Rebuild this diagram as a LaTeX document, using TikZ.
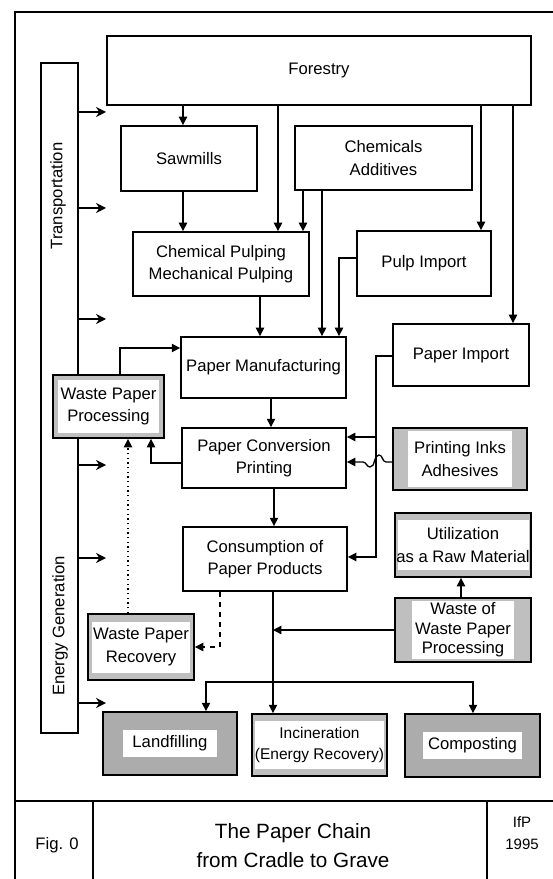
\documentclass[tikz,border=0pt]{standalone}
\usepackage{fontspec}
\setmainfont{Liberation Sans}
\usetikzlibrary{arrows.meta}

\tikzset{
  sz/.style 2 args={minimum width=#1*0.6pt, minimum height=#2*0.6pt},
  box/.style={draw, line width=1.1pt, inner sep=0pt, align=center, font=\fontsize{10}{13.5}\selectfont},
  dotbox/.style 2 args={box, fill=gray!50, path picture={\fill[white] ([xshift=#1, yshift=-#2]path picture bounding box.north west) rectangle ([xshift=-#1, yshift=#2]path picture bounding box.south east);}},
  arr/.style={line width=0.8pt, -{Triangle[length=5pt,width=5pt]}},
  tarr/.style={line width=0.8pt, -{Stealth[length=6pt,width=6pt,inset=2pt]}},
}

\begin{document}
\begin{tikzpicture}[x=0.6pt, y=-0.6pt]
\useasboundingbox (0,0) rectangle (553,879);
% frame and title block
\draw[line width=1.3pt] (553,12) -- (15,12) -- (15,879);
\draw[line width=1.3pt] (15,801) -- (553,801);
\draw[line width=1pt] (93,801) -- (93,879);
\draw[line width=1pt] (487,801) -- (487,879);
\node[font=\fontsize{10}{12}\selectfont] (fig) at (57,845) {Fig. 0};
\node[align=center, font=\fontsize{12.4}{17.4}\selectfont] (title) at (293,846) {The Paper Chain\\from Cradle to Grave};
\node[align=center, font=\fontsize{9}{13.2}\selectfont] (ifp) at (522,833) {IfP\\1995};

% side column
\node[draw, line width=0.9pt, sz={37}{670}] (column) at (59.5,398) {};
\node[rotate=90, font=\fontsize{10}{12}\selectfont] (transp) at (58,196) {Transportation};
\node[rotate=90, font=\fontsize{10}{12}\selectfont] (energy) at (60,626) {Energy Generation};
\foreach \y [count=\i] in {112,208,319,465,558,703} {
  \coordinate (t\i) at (106,\y);
  \draw[tarr] (column.east |- t\i) -- (t\i);
}

% boxes
\node[box, sz={424}{69}] (forestry) at (319,70.5) {Forestry};
\node[box, sz={136}{65}] (sawmills) at (189,158.5) {Sawmills};
\node[box, sz={177}{64}] (chem) at (383.5,158) {Chemicals\\Additives};
\node[box, sz={176}{64}] (pulping) at (221,264) {Chemical Pulping\\Mechanical Pulping};
\node[box, sz={134}{65}] (pulpimp) at (424,263.5) {Pulp Import};
\node[box, sz={165}{61}] (papman) at (263.5,367.5) {Paper Manufacturing};
\node[box, sz={136}{62}] (papimp) at (461,355) {Paper Import};
\node[dotbox={3pt}{3pt}, sz={111}{63}] (wpp) at (108.5,406.5) {Waste Paper\\Processing};
\node[box, sz={164}{60}] (conv) at (264,458) {Paper Conversion\\Printing};
\node[dotbox={9pt}{2pt}, sz={134}{62}] (inks) at (460,459) {Printing Inks\\Adhesives};
\node[box, sz={164}{64}] (cons) at (265,559) {Consumption of\\Paper Products};
\node[dotbox={1.5pt}{4pt}, sz={136}{64}] (util) at (463,545) {Utilization\\as a Raw Material};
\node[dotbox={10pt}{2pt}, sz={136}{64}, font=\fontsize{10}{11.7}\selectfont] (wwpp) at (463,630) {Waste of\\Waste Paper\\Processing};
\node[dotbox={2.5pt}{4.5pt}, sz={106}{66}] (wpr) at (141,647) {Waste Paper\\Recovery};
\node[dotbox={12pt}{11pt}, fill=gray!65, sz={134}{63}] (landfill) at (170,743.5) {Landfilling};
\node[dotbox={2pt}{4pt}, sz={135}{62}, font=\fontsize{9.3}{13}\selectfont] (incin) at (319.5,745) {Incineration\\(Energy Recovery)};
\node[dotbox={11pt}{11pt}, fill=gray!65, sz={135}{63}] (compost) at (472.5,745.5) {Composting};

% flows
\draw[arr] (forestry.south -| 183,0) -- (sawmills.north -| 183,0);
\draw[arr] (forestry.south -| 278,0) -- (pulping.north -| 278,0);
\draw[arr] (forestry.south -| 481,0) -- (pulpimp.north -| 481,0);
\draw[arr] (forestry.south -| 513,0) -- (papimp.north -| 513,0);
\draw[arr] (sawmills.south -| 183,0) -- (pulping.north -| 183,0);
\draw[arr] (chem.south -| 303,0) -- (pulping.north -| 303,0);
\draw[arr] (chem.south -| 322,0) -- (papman.north -| 322,0);
\draw[arr] (pulpimp.west |- 0,258) -| (papman.north -| 339,0);
\draw[arr] (pulping.south -| 260,0) -- (papman.north -| 260,0);
\draw[arr] (papman.south -| 271,0) -- (conv.north -| 271,0);
\draw[arr] (conv.south -| 274,0) -- (cons.north -| 274,0);
\draw[arr] (wpp.north -| 120,0) |- (papman.west |- 0,348);
\draw[arr] (conv.west |- 0,463) -| (wpp.south -| 151,0);
\draw[arr, dotted] (wpr.north -| 128,0) -- (wpp.south -| 128,0);
\coordinate (pj) at (376,356);
\draw[arr] (papimp.west |- pj) -- (pj) |- (cons.east |- 0,557);
\draw[arr] (pj |- 0,437) -- (conv.east |- 0,437);
\draw[arr] (inks.west |- 0,462) -- (386,462) to[out=180,in=0] (379,455) to[out=180,in=0] (370,467) to[out=180,in=0] (363,462) -- (conv.east |- 0,462);
\draw[arr, dashed] (cons.south -| 220,0) |- (wpr.east |- 0,647);
\coordinate (split) at (273,682);
\coordinate (merge) at (273,630);
\draw[line width=0.8pt] (cons.south -| split) -- (split);
\draw[arr] (split) -- (incin.north -| split);
\draw[arr] (split) -| (landfill.north -| 206,0);
\draw[arr] (split) -| (compost.north -| 473,0);
\draw[arr] (wwpp.west) -- (merge);
\draw[arr] (wwpp.north -| 461,0) -- (util.south -| 461,0);
\end{tikzpicture}
\end{document}
